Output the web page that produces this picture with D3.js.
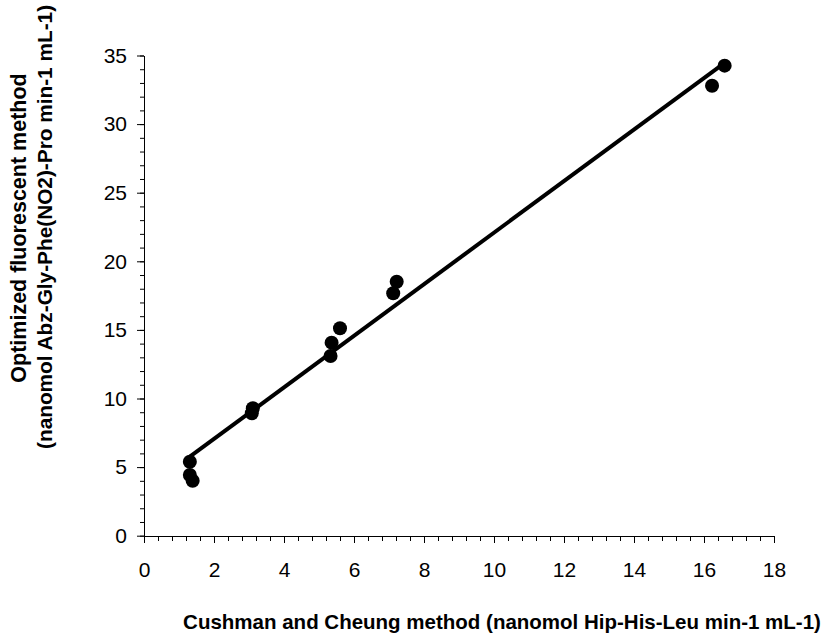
<!DOCTYPE html>
<html>
<head>
<meta charset="utf-8">
<script src="https://cdn.jsdelivr.net/npm/d3@7"></script>
<style>
  body { margin: 0; background: #fff; }
  svg { display: block; font-family: Arial, "Liberation Sans", sans-serif; }
</style>
</head>
<body>
<svg id="chart" width="832" height="639"></svg>
<script>
// data
const cushman = [1.31, 1.31, 1.39, 3.08, 3.11, 5.33, 5.36, 5.60, 7.12, 7.22, 16.23, 16.59];
const fluor   = [5.39, 4.42, 4.01, 8.92, 9.29, 13.10, 14.07, 15.12, 17.67, 18.51, 32.80, 34.26];
const fitX = [1.31, 16.59];
const fitY = [5.76, 34.47];
const xTicks = [0, 2, 4, 6, 8, 10, 12, 14, 16, 18];
const yTicks = [0, 5, 10, 15, 20, 25, 30, 35];

var svg = d3.select("#chart");

var x = d3.scaleLinear().domain([0, 18]).range([144, 774]);
var y = d3.scaleLinear().domain([0, 35]).range([535.7, 55.5]);

// minor ticks
var xMinor = d3.range(0, 18.01, 0.4);
var yMinor = d3.range(0, 35.01, 1);

svg.append("g")
    .attr("transform", "translate(0,536)")
    .call(d3.axisBottom(x).tickValues(xMinor).tickSize(5).tickFormat(""))
    .call(g => g.select(".domain").remove());

svg.append("g")
    .attr("transform", "translate(144,0)")
    .call(d3.axisLeft(y).tickValues(yMinor).tickSize(4).tickFormat(""))
    .call(g => g.select(".domain").remove());

var xAxis = svg.append("g")
    .attr("transform", "translate(0,536)")
    .call(d3.axisBottom(x).tickValues(xTicks).tickSize(7).tickSizeOuter(0).tickPadding(19));

var yAxis = svg.append("g")
    .attr("transform", "translate(144,0)")
    .call(d3.axisLeft(y).tickValues(yTicks).tickSize(7).tickSizeOuter(0).tickPadding(10));

svg.selectAll(".tick text")
    .attr("font-size", 21)
    .attr("font-family", "Arial, 'Liberation Sans', sans-serif")
    .attr("fill", "#000");
svg.selectAll(".tick line, .domain").attr("stroke", "#000");

// fit line
svg.append("line")
    .attr("x1", x(fitX[0])).attr("y1", y(fitY[0]))
    .attr("x2", x(fitX[1])).attr("y2", y(fitY[1]))
    .attr("stroke", "#000")
    .attr("stroke-width", 4);

svg.selectAll("circle.pt")
    .data(cushman)
    .enter()
    .append("circle")
    .attr("class", "pt")
    .attr("cx", d => x(d))
    .attr("cy", (d, i) => y(fluor[i]))
    .attr("r", 7)
    .attr("fill", "#000");

// axis titles
svg.append("text")
    .attr("x", 502).attr("y", 629)
    .attr("text-anchor", "middle")
    .attr("font-size", 20.5)
    .attr("font-weight", "bold")
    .text("Cushman and Cheung method (nanomol Hip-His-Leu min-1 mL-1)");

// y title, two lines
svg.append("text")
    .attr("transform", "translate(26,228) rotate(-90)")
    .attr("text-anchor", "middle")
    .attr("font-size", 21.5)
    .attr("font-weight", "bold")
    .text("Optimized fluorescent method");

svg.append("text")
    .attr("transform", "translate(52,449) rotate(-90)")
    .attr("text-anchor", "start")
    .attr("font-size", 20.8)
    .attr("font-weight", "bold")
    .text("(nanomol Abz-Gly-Phe(NO2)-Pro min-1 mL-1)");
</script>
</body>
</html>
